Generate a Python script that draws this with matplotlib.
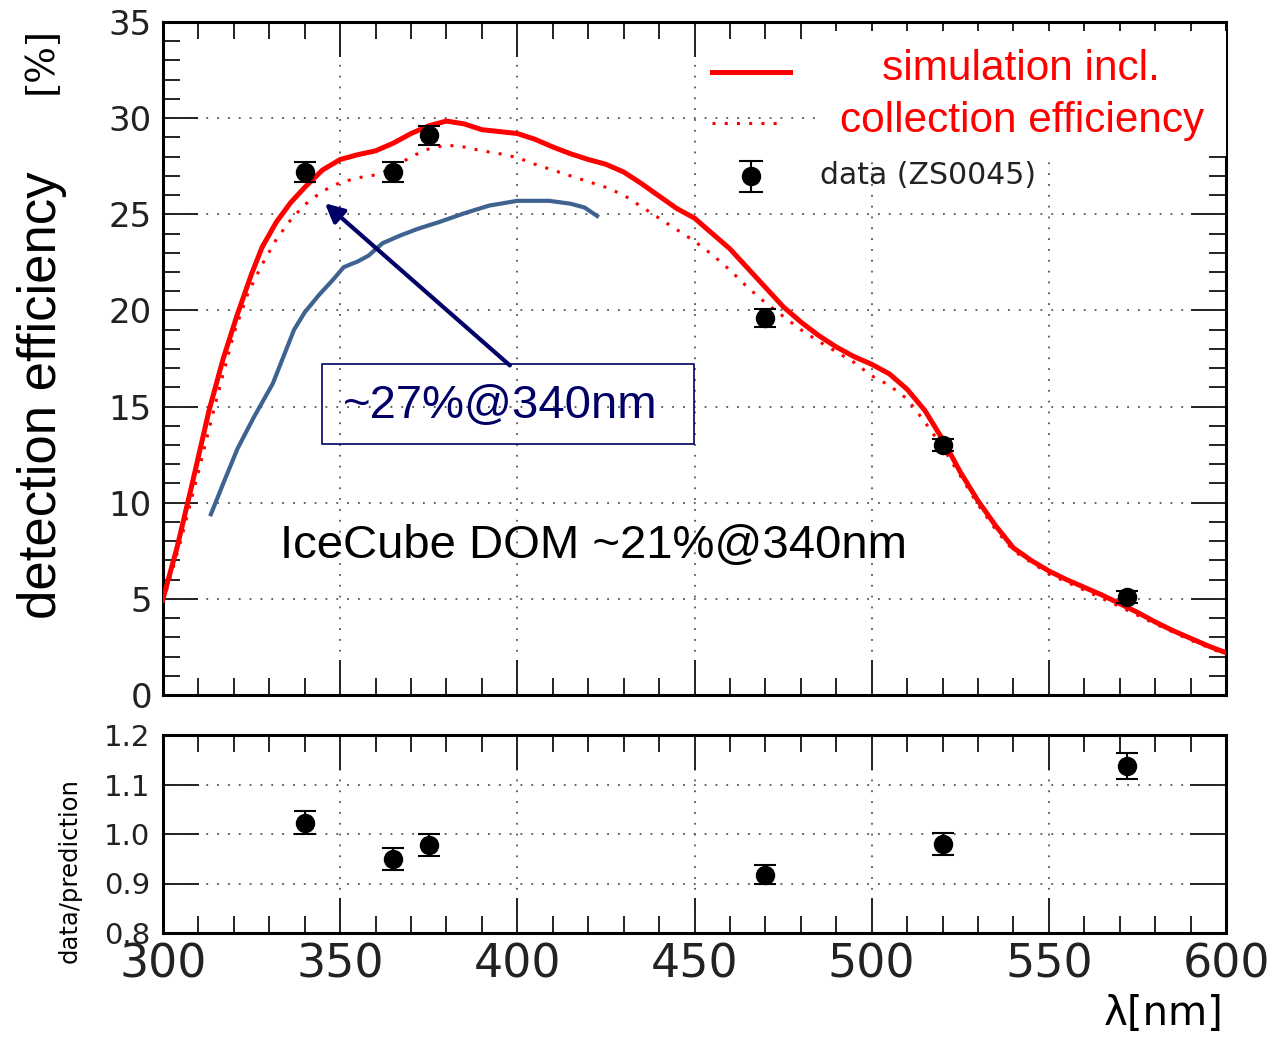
import numpy as np
import matplotlib
matplotlib.use('Agg')
import matplotlib.pyplot as plt
from matplotlib.lines import Line2D
from matplotlib.patches import Rectangle
from matplotlib.ticker import MultipleLocator

W, H = 1276, 1038

# --- data ---
# measured points (wavelength nm, efficiency %)
data_wl = [340, 365, 375, 470, 520, 572]
data_eff = [27.2, 27.2, 29.1, 19.6, 13.0, 5.1]
data_err = [0.5, 0.5, 0.5, 0.45, 0.3, 0.3]
ratio = [1.023, 0.950, 0.978, 0.918, 0.980, 1.137]
ratio_err = [0.023, 0.022, 0.022, 0.020, 0.022, 0.026]

# simulation incl. collection efficiency (solid)
sim_wl = [300, 304, 308, 313, 317, 321, 325, 328, 332, 336, 340, 345, 350, 355,
          360, 365, 370, 375, 380, 385, 390, 395, 400, 405, 410, 415, 420, 425,
          430, 435, 440, 445, 450, 455, 460, 465, 470, 475, 480, 485, 490, 495,
          500, 505, 510, 515, 520, 525, 530, 535, 540, 545, 550, 555, 560, 565,
          570, 575, 580, 585, 590, 595, 600]
sim_eff = [5.0, 7.7, 10.8, 14.8, 17.5, 19.8, 21.9, 23.3, 24.6, 25.6, 26.4, 27.3,
           27.85, 28.1, 28.3, 28.7, 29.2, 29.6, 29.85, 29.7, 29.4, 29.3, 29.2,
           28.9, 28.5, 28.15, 27.85, 27.6, 27.2, 26.6, 25.95, 25.3, 24.8, 24.0,
           23.2, 22.2, 21.2, 20.2, 19.4, 18.7, 18.1, 17.6, 17.2, 16.7, 15.9, 14.8,
           13.3, 11.6, 10.1, 8.8, 7.65, 7.0, 6.45, 6.0, 5.6, 5.2, 4.75, 4.3, 3.8,
           3.35, 2.95, 2.55, 2.2]

# dotted simulation curve
dot_wl = [300, 305, 310, 315, 320, 324, 328, 332, 336, 340, 345, 350, 355, 360,
          365, 370, 375, 380, 385, 390, 395, 400, 405, 410, 415, 420, 425, 430,
          435, 440, 445, 450, 455, 460, 465, 470, 475, 480, 485, 490, 495, 500,
          505, 510, 515, 520, 525, 530, 535, 540, 550, 560, 570, 580, 590, 600]
dot_eff = [4.8, 8.0, 11.6, 15.3, 18.8, 20.9, 22.4, 23.7, 24.7, 25.5, 26.2, 26.65,
           26.9, 27.05, 27.4, 28.0, 28.4, 28.6, 28.5, 28.3, 28.15, 27.95, 27.6,
           27.3, 27.0, 26.7, 26.4, 26.0, 25.4, 24.8, 24.2, 23.6, 22.9, 22.1, 21.2,
           20.4, 19.7, 19.0, 18.4, 17.85, 17.3, 16.6, 16.1, 15.4, 14.2, 12.9, 11.4,
           9.9, 8.6, 7.5, 6.3, 5.45, 4.6, 3.7, 2.85, 2.1]

# IceCube DOM curve (hand drawn)
dom_wl = [313.3, 317, 321, 325.5, 331, 334, 337, 340, 344, 348, 351, 355, 358,
          362, 367, 372, 378, 385, 392, 400, 409, 415, 419, 423]
dom_eff = [9.3, 11.0, 12.8, 14.4, 16.2, 17.6, 19.0, 19.9, 20.8, 21.6, 22.25, 22.55,
           22.85, 23.5, 23.9, 24.25, 24.6, 25.05, 25.45, 25.7, 25.7, 25.55, 25.35,
           24.85]

RED = '#ff0000'
NAVY = '#000066'
GRID = dict(ls=(0, (1, 5)), color='#555555', lw=1.3)


def fx(x):
    return x / W


def fy(y):
    return 1 - y / H


fig = plt.figure(figsize=(W / 100, H / 100), dpi=100)
ax = fig.add_axes([fx(163), fy(695), (1226 - 163) / W, (695 - 22) / H])
axr = fig.add_axes([fx(163), fy(933), (1226 - 163) / W, (933 - 735) / H])

for a in (ax, axr):
    a.set_xlim(300, 600)
    a.xaxis.set_major_locator(MultipleLocator(50))
    a.xaxis.set_minor_locator(MultipleLocator(10))
    for s in a.spines.values():
        s.set_linewidth(2.2)
    a.tick_params(which='both', direction='in', top=True, right=True, width=1.4,
                  colors='#222222')
    a.tick_params(which='major', length=25)
    a.tick_params(which='minor', length=12)
    a.grid(True, which='major', **GRID)
    a.set_axisbelow(True)

# main panel
ax.set_ylim(0, 35)
ax.yaxis.set_major_locator(MultipleLocator(5))
ax.yaxis.set_minor_locator(MultipleLocator(1))
ax.tick_params(axis='x', labelbottom=False)
ax.tick_params(axis='y', labelsize=24.5, pad=8)

ax.plot(sim_wl, sim_eff, color=RED, lw=3.6, zorder=3)
ax.plot(dot_wl, dot_eff, color=RED, lw=2.2, ls=(0, (1, 3)), zorder=3)
ax.plot(dom_wl, dom_eff, color='#3f6390', lw=3, zorder=3, solid_capstyle='butt')
ax.errorbar(data_wl, data_eff, yerr=data_err, fmt='o', color='black', ms=13,
            capsize=8, elinewidth=1.5, capthick=1.5, zorder=4)

# annotation box and arrow
ax.add_patch(Rectangle((344.9, 13.07), 449.9 - 344.9, 17.19 - 13.07, fill=False,
                       edgecolor=NAVY, lw=1.2, zorder=5))
ax.annotate('', xy=(345.7, 25.57), xytext=(397.9, 17.14),
            arrowprops=dict(arrowstyle='-|>', color=NAVY, lw=3,
                            mutation_scale=28, shrinkA=0, shrinkB=0), zorder=5)
fig.text(fx(343), fy(406), '~27%@340nm', color=NAVY, fontsize=34,
         family='Liberation Sans', ha='left', va='center')
fig.text(fx(280), fy(546), 'IceCube DOM ~21%@340nm', color='black', fontsize=34,
         family='Liberation Sans', ha='left', va='center')

# ratio panel
axr.set_ylim(0.8, 1.2)
axr.yaxis.set_major_locator(MultipleLocator(0.1))
axr.yaxis.set_major_formatter(plt.FormatStrFormatter('%.1f'))
axr.tick_params(axis='y', which='major', length=26, labelsize=21, pad=9)
axr.tick_params(axis='x', labelsize=33, pad=7)
axr.errorbar(data_wl, ratio, yerr=ratio_err, fmt='o', color='black', ms=13,
             capsize=8, elinewidth=1.5, capthick=1.5, zorder=4)

# axis titles
fig.text(fx(42), fy(395), 'detection efficiency', rotation=90, fontsize=38,
         family='Liberation Sans', ha='center', va='center')
fig.text(fx(41), fy(60), '[%]', rotation=90, fontsize=28, family='DejaVu Serif',
         ha='center', va='center')
fig.text(fx(70), fy(871), 'data/prediction', rotation=90, fontsize=17.5,
         ha='center', va='center')
fig.text(fx(1224), fy(1014), 'λ[nm]', fontsize=29, ha='right', va='center')

# legend drawn by hand
fig.add_artist(Line2D([fx(712), fx(790)], [fy(72), fy(72)], color=RED, lw=3.6))
fig.add_artist(Line2D([fx(712), fx(782)], [fy(123), fy(123)], color=RED, lw=2.2,
                      ls=(0, (1, 3))))
fig.add_artist(Line2D([fx(751), fx(751)], [fy(161), fy(192)], color='black', lw=1.5))
for yy in (161, 192):
    fig.add_artist(Line2D([fx(740), fx(762)], [fy(yy), fy(yy)], color='black', lw=1.5))
fig.add_artist(Line2D([fx(751)], [fy(176)], marker='o', ms=13, color='black'))
fig.text(fx(820), fy(176), 'data (ZS0045)', fontsize=21.5, ha='left', va='center',
         color='#222222')

# pasted white text box over the legend
fig.add_artist(Rectangle((fx(815), fy(156)), (1226 - 815) / W, (156 - 31) / H,
                         transform=fig.transFigure, facecolor='white',
                         edgecolor='none', zorder=2))
fig.text(fx(1021), fy(69), 'simulation incl.', color=RED, fontsize=30.5,
         family='Liberation Sans', ha='center', va='center', zorder=3)
fig.text(fx(1022), fy(121), 'collection efficiency', color=RED, fontsize=30.5,
         family='Liberation Sans', ha='center', va='center', zorder=3)

fig.savefig('out.png', dpi=100)
